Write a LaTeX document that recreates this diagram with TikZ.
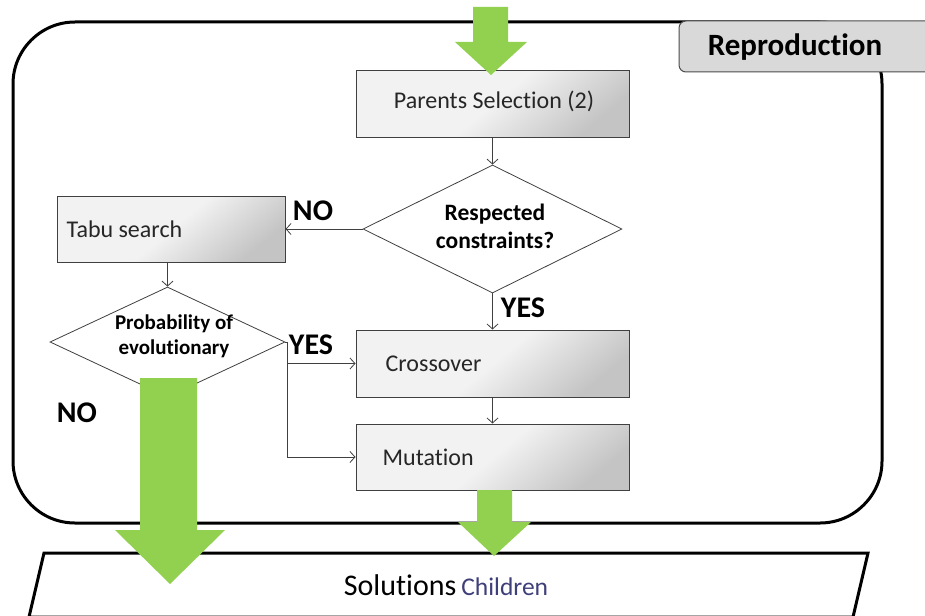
\documentclass[tikz,border=0pt]{standalone}
\usepackage{fontspec}
\setmainfont{Carlito}[Ligatures={NoCommon}]
\usetikzlibrary{shapes.geometric,arrows.meta}
\definecolor{grn}{HTML}{92D050}
\definecolor{boxlight}{HTML}{F2F2F2}
\definecolor{boxdark}{HTML}{C4C4C4}
\definecolor{tabgray}{HTML}{D9D9D9}
\definecolor{childblue}{HTML}{3F3F7A}
\definecolor{txt}{HTML}{262626}
\begin{document}
\begin{tikzpicture}[x=1pt,y=-1pt,
  stepbox/.style={draw=black!75, line width=1pt, rectangle, inner sep=0pt,
    top color=boxlight, bottom color=boxdark, middle color=boxlight, shading angle=40},
  dia/.style={draw=black!75, line width=0.8pt, diamond, fill=white, inner sep=0pt},
  conn/.style={draw=black!75, line width=0.8pt, -{Straight Barb[length=5pt,width=11pt]}},
  boxtext/.style={font=\fontsize{24}{26}\selectfont, text=txt, inner sep=0pt},
  dtext/.style={font=\bfseries\fontsize{23.5}{28}\selectfont, align=center, inner sep=0pt},
  lbl/.style={font=\bfseries\fontsize{30}{32}\selectfont, inner sep=0pt},
  bigarrow/.style={fill=grn, draw=none}
]
\clip (0,0) rectangle (925,615);
\fill[white] (0,0) rectangle (925,615);

% container
\draw[line width=3pt, rounded corners=62pt] (13,22) rectangle (882,523);
% tab
\draw[fill=tabgray, draw=black!70, line width=1pt, rounded corners=7pt] (679,21) rectangle (945,72);
\node[font=\bfseries\fontsize{31}{34}\selectfont, inner sep=0pt] (rep) at (795,47) {Reproduction};

% boxes
\node[stepbox, minimum width=273pt, minimum height=67pt] (ps) at (492.5,104) {};
\node[boxtext] (pst) at (494,101) {Parents Selection (2)};

\node[dia, minimum width=259pt, minimum height=128pt] (rc) at (492.5,229) {};
\node[dtext] (rct) at (495,226) {Respected\\constraints?};

\node[stepbox, minimum width=228pt, minimum height=66pt] (ts) at (171,229) {};
\node[boxtext, anchor=west] (tst) at ([xshift=10pt]ts.west) {Tabu search};

\node[dia, minimum width=235pt, minimum height=110pt] (pe) at (167.5,342) {};
\node[dtext, font=\bfseries\fontsize{21}{25}\selectfont] (pet) at (174,336) {Probability of\\evolutionary};

\node[stepbox, minimum width=273pt, minimum height=67pt] (cr) at (492.5,363.5) {};
\node[boxtext, anchor=west] (crt) at ([xshift=30pt]cr.west) {Crossover};

\node[stepbox, minimum width=273pt, minimum height=66pt] (mu) at (492.5,457) {};
\node[boxtext, anchor=west] (mut) at ([xshift=27pt]mu.west) {Mutation};

% connectors
\draw[conn] (ps.south) -- (rc.north);
\draw[conn] (rc.south) -- (cr.north);
\draw[conn] (rc.west) -- (ts.east);
\draw[conn] (pe.north |- ts.south) -- (pe.north);
\draw[conn] (pe.east) -- ++(2,0) |- (cr.west);
\draw[conn] (pe.east) -- ++(2,0) |- (mu.west);
\draw[conn] (cr.south) -- (mu.north);

% labels
\node[lbl] (no1) at (313,211) {NO};
\node[lbl] (yes1) at (523,308) {YES};
\node[lbl] (yes2) at (311,345) {YES};
\node[lbl] (no2) at (77,413) {NO};

% solutions
\draw[line width=3pt, fill=white] (44,553) -- (868,553) -- (853,617) -- (29,617) -- cycle;
\node[inner sep=0pt, anchor=base] (solt) at (446,595)
  {\fontsize{30}{32}\selectfont Solutions\hspace{5pt}{\fontsize{25.5}{30}\selectfont\color{childblue}Children}};

% green block arrows
\fill[bigarrow] (473,7) -- (508,7) -- (508,42) -- (527,42) -- (491,75) -- (455,42) -- (473,42) -- cycle;
\fill[bigarrow] (140,378) -- (197,378) -- (197,530) -- (225,530) -- (170,584) -- (115,530) -- (140,530) -- cycle;
\fill[bigarrow] (477,490) -- (512,490) -- (512,522) -- (531,522) -- (494,556) -- (458,522) -- (477,522) -- cycle;
\end{tikzpicture}
\end{document}
